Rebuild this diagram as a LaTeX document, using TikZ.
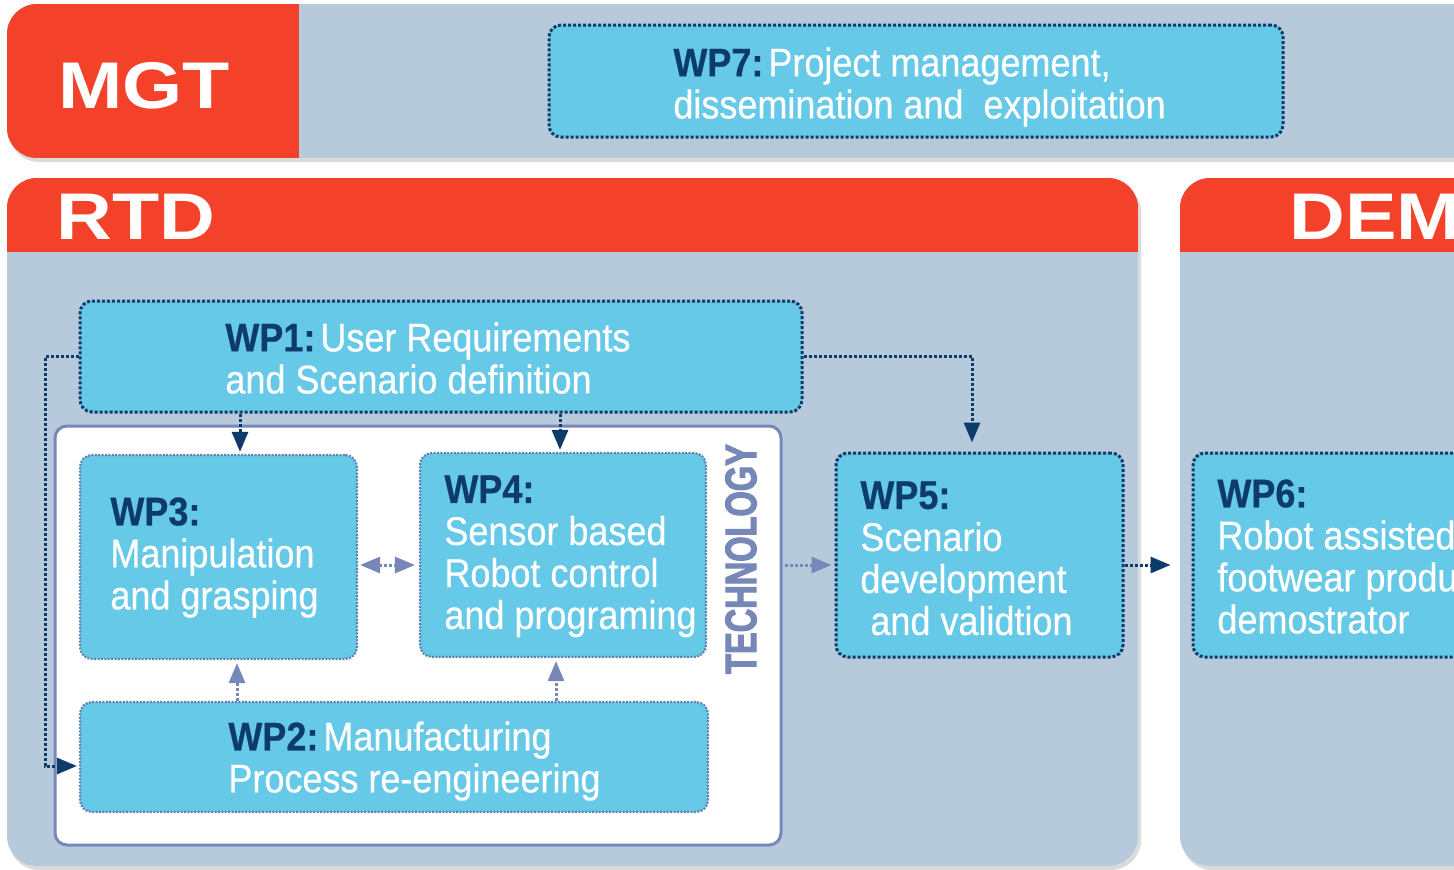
\documentclass[tikz,border=0pt]{standalone}
\usepackage{fontspec}
\setmainfont{Liberation Sans}
\newfontfamily\condf{Liberation Sans}[FakeStretch=0.9, FakeBold=0.5]
\newfontfamily\techf{Liberation Sans Bold}[FakeStretch=0.74, FakeBold=2.5]
\newfontfamily\widef{Liberation Sans Bold}[FakeStretch=1.17]
\usetikzlibrary{arrows.meta,fit}
\definecolor{mgtred}{RGB}{243,66,41}
\definecolor{bandbg}{RGB}{183,202,220}
\definecolor{cyanb}{RGB}{102,201,231}
\definecolor{navy}{RGB}{13,59,106}
\definecolor{techc}{RGB}{119,136,184}
\definecolor{innerc}{RGB}{100,130,175}
\newcommand{\wpl}[1]{{\bfseries\color{navy}#1}}
\begin{document}
\begin{tikzpicture}[x=0.5pt,y=-0.5pt,
  titletext/.style={text=white, inner sep=0pt, font=\widef\fontsize{33}{36}\selectfont},
  wpbox/.style={draw=navy, fill=cyanb, line width=1.5pt, dash pattern=on 1.5pt off 1pt, rounded corners=6pt, inner sep=0pt},
  wpin/.style={wpbox, draw=innerc, line width=1.1pt, dash pattern=on 1pt off 0.7pt},
  techbox/.style={draw=techc, line width=1.5pt, fill=white, rounded corners=6pt, inner sep=0pt},
  wptext/.style={anchor=north west, inner sep=0pt, align=left, text=white, font=\condf\fontsize{20}{21}\selectfont},
  darrow/.style={draw=navy, line width=1.5pt, dash pattern=on 1.5pt off 1pt, -{Triangle[length=10pt,width=8pt]}},
  larrow/.style={draw=techc, line width=1.5pt, dash pattern=on 1.5pt off 1pt, -{Triangle[length=10pt,width=8pt]}},
  shadowfill/.style={fill=black!14}
]
\useasboundingbox (0,0) rectangle (1454,869);
\clip (0,0) rectangle (1454,869);
\fill[white] (0,0) rectangle (1454,869);
% shadows
\fill[shadowfill, rounded corners=15pt] (9,8) rectangle (1520,162);
\fill[shadowfill, rounded corners=15pt] (9,182) rectangle (1141,870);
\fill[shadowfill, rounded corners=15pt] (1182,182) rectangle (1520,870);
% MGT band
\begin{scope}
  \clip[rounded corners=15pt] (7,4) rectangle (1520,158);
  \fill[bandbg] (7,4) rectangle (1520,158);
  \fill[mgtred] (7,4) rectangle (299,158);
\end{scope}
\node[titletext] (mgt) at (144,86) {MGT};
% RTD band
\begin{scope}
  \clip[rounded corners=15pt] (7,178) rectangle (1138,866);
  \fill[bandbg] (7,178) rectangle (1138,866);
  \fill[mgtred] (7,178) rectangle (1138,252);
\end{scope}
\node[titletext, anchor=west] (rtd) at (56,217) {RTD};
% DEM band
\begin{scope}
  \clip[rounded corners=15pt] (1180,178) rectangle (1520,866);
  \fill[bandbg] (1180,178) rectangle (1520,866);
  \fill[mgtred] (1180,178) rectangle (1520,252);
\end{scope}
\node[titletext, anchor=west] (dem) at (1289,217) {DEM};

% technology container
\node[techbox, fit={(55,426) (781,845)}] (tech) {};
\node[rotate=90, text=techc, inner sep=0pt, font=\techf\fontsize{22}{23}\selectfont] (techlbl) at (741,559) {TECHNOLOGY};

% work package boxes
\node[wpbox, fit={(549,25) (1283,137)}] (wp7) {};
\node[wpbox, fit={(80,301) (802,412)}] (wp1) {};
\node[wpin, fit={(80,455) (357,659)}] (wp3) {};
\node[wpin, fit={(420,453) (706,657)}] (wp4) {};
\node[wpin, fit={(80,702) (708,812)}] (wp2) {};
\node[wpbox, fit={(836,453) (1123,657)}] (wp5) {};
\node[wpbox, fit={(1193,453) (1520,657)}] (wp6) {};

% texts
\node[wptext] (wp7t) at (673,47) {\wpl{WP7:}\hspace{2.5pt}Project management,\\dissemination and\ \ exploitation};
\node[wptext] (wp1t) at (225,322) {\wpl{WP1:}\hspace{2.5pt}User Requirements\\and Scenario definition};
\node[wptext] (wp3t) at (110,497) {\wpl{WP3:}\\Manipulation\\and grasping};
\node[wptext] (wp4t) at (444,475) {\wpl{WP4:}\\Sensor based\\Robot control\\and programing};
\node[wptext] (wp2t) at (228,721) {\wpl{WP2:}\hspace{2.5pt}Manufacturing\\Process re-engineering};
\node[wptext] (wp5t) at (860,481) {\wpl{WP5:}\\Scenario\\development\\\hspace*{5pt}and validtion};
\node[wptext] (wp6t) at (1217,479) {\wpl{WP6:}\\Robot assisted\\footwear produ\\demostrator};

% connectors
\coordinate (x3) at (240,0);
\coordinate (x4) at (560,0);
\coordinate (x5) at (972,0);
\coordinate (lft) at (45,766);
\coordinate (ym) at (0,565);
\coordinate (x2a) at (237,0);
\coordinate (x2b) at (556,0);
\draw[darrow, shorten >=1pt] (wp1.south -| x3) -- (wp3.north -| x3);
\draw[darrow, shorten >=1pt] (wp1.south -| x4) -- (wp4.north -| x4);
\draw[darrow, shorten >=4.5pt] (wp1.east) -| (wp5.north -| x5);
\draw[darrow, shorten >=1pt] (wp1.west) -| (lft) -- (wp2.west |- lft);
\draw[larrow, {Triangle[length=10pt,width=8pt]}-{Triangle[length=10pt,width=8pt]}, shorten <=1pt, shorten >=2pt] (wp3.east |- ym) -- (wp4.west |- ym);
\draw[larrow, shorten >=1.5pt] (wp2.north -| x2a) -- (wp3.south -| x2a);
\draw[larrow, shorten >=1.5pt] (wp2.north -| x2b) -- (wp4.south -| x2b);
\draw[larrow, shorten <=1pt, shorten >=1.5pt] (tech.east |- ym) -- (wp5.west |- ym);
\draw[darrow, shorten >=10.5pt] (wp5.east |- ym) -- (wp6.west |- ym);
\end{tikzpicture}
\end{document}
